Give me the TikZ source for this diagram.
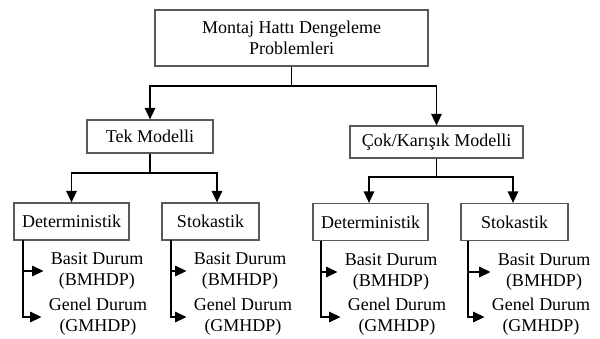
\documentclass[tikz,border=0pt]{standalone}
\usepackage{fontspec}
\setmainfont{Liberation Serif}
\usepackage{tikz}
\usetikzlibrary{positioning,arrows.meta,calc}
\tikzset{
    x=1pt,
    y=-1pt,
    font=\fontsize{18}{21}\selectfont,
    block/.style = {
        draw=black!65,
        shape=rectangle,
        align=center,
        inner sep=0pt,
        line width=1.2pt
    },
    leaf/.style = {
        shape=rectangle,
        align=center,
        inner xsep=7pt,
        inner ysep=0pt
    },
    link/.style = {
        draw,
        line width=1.5pt
    },
    >={Triangle[length=11.5pt,width=10.5pt]},
}
\begin{document}
\begin{tikzpicture}
                \useasboundingbox (0,0) rectangle (600,338);
                \node[block, minimum width=273, minimum height=56] (top) at (291.5,38) {Montaj Hattı Dengeleme\\Problemleri};
                \node[block, minimum width=126, minimum height=33] (tek) at (150,136.5) {Tek Modelli};
                \node[block, minimum width=173, minimum height=32] (cok) at (436.5,142) {Çok/Karışık Modelli};
                \node[block, minimum width=115, minimum height=37] (det1) at (71.5,221.5) {Deterministik};
                \node[block, minimum width=97, minimum height=37] (sto1) at (210.5,221.5) {Stokastik};
                \node[block, minimum width=115, minimum height=37] (det2) at (370.5,222) {Deterministik};
                \node[block, minimum width=107, minimum height=37] (sto2) at (514.5,222) {Stokastik};

                \node[leaf] (basit1) at (97,271) {Basit Durum\\(BMHDP)};
                \node[leaf] (genel1) at (98,317) {Genel Durum\\(GMHDP)};
                \node[leaf] (basit2) at (240,271) {Basit Durum\\(BMHDP)};
                \node[leaf] (genel2) at (243,317) {Genel Durum\\(GMHDP)};
                \node[leaf] (basit3) at (391,272) {Basit Durum\\(BMHDP)};
                \node[leaf] (genel3) at (397,317) {Genel Durum\\(GMHDP)};
                \node[leaf] (basit4) at (544,272) {Basit Durum\\(BMHDP)};
                \node[leaf] (genel4) at (541,317) {Genel Durum\\(GMHDP)};

                \coordinate (split) at (291.5,86);
                \coordinate (tekspl) at (150,173);
                \coordinate (cokspl) at (436.5,177);
                \coordinate (trunk1) at (23,240);
                \coordinate (trunk2) at (171,240);
                \coordinate (trunk3) at (321,241);
                \coordinate (trunk4) at (468,241);

                \path[link, -] (top) -- (split);
                \path[link, ->] (split) -| (tek);
                \path[link, ->] (split) -| (cok);
                \path[link, -] (tek) -- (tekspl);
                \path[link, ->] (tekspl) -| (det1);
                \path[link, ->] (tekspl) -| ([xshift=6.5pt]sto1.north);
                \path[link, -] (cok) -- (cokspl);
                \path[link, ->] (cokspl) -| ([xshift=-1.5pt]det2.north);
                \path[link, ->] (cokspl) -| ([xshift=-1.5pt]sto2.north);

                \path[link, ->] (trunk1) |- (basit1);
                \path[link, ->] (trunk1) |- (genel1);
                \path[link, ->] (trunk2) |- (basit2);
                \path[link, ->] (trunk2) |- (genel2);
                \path[link, ->] (trunk3) |- (basit3);
                \path[link, ->] (trunk3) |- (genel3);
                \path[link, ->] (trunk4) |- (basit4);
                \path[link, ->] (trunk4) |- (genel4);
            \end{tikzpicture}
\end{document}
